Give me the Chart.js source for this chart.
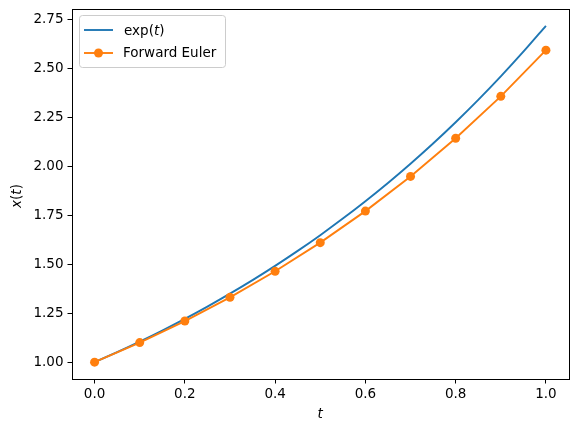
<!DOCTYPE html>
<html><head><meta charset="utf-8">
<script src="https://cdn.jsdelivr.net/npm/chart.js@4"></script>
<style>html,body{margin:0;padding:0;background:#fff}#wrap{width:578px;height:432px}</style>
</head><body><div id="wrap"><canvas id="c" width="578" height="432"></canvas></div>
<script>
const expT = [0,0.05,0.1,0.15,0.2,0.25,0.3,0.35,0.4,0.45,0.5,0.55,0.6,0.65,0.7,0.75,0.8,0.85,0.9,0.95,1.0];
const expX = [1.0000,1.0513,1.1052,1.1618,1.2214,1.2840,1.3499,1.4191,1.4918,1.5683,1.6487,1.7333,1.8221,1.9155,2.0138,2.1170,2.2255,2.3396,2.4596,2.5857,2.7183];
const eulerT = [0,0.1,0.2,0.3,0.4,0.5,0.6,0.7,0.8,0.9,1.0];
const eulerX = [1.0,1.1,1.21,1.331,1.4641,1.6105,1.7716,1.9487,2.1436,2.3579,2.5937];
const xTicks = [0,0.2,0.4,0.6,0.8,1.0];
const yTicks = [1.00,1.25,1.50,1.75,2.00,2.25,2.50,2.75];
const FONT = 'DejaVu Sans';
const FS = 13.5;
const BLUE = '#1f77b4', ORANGE = '#ff7f0e';

const deco = {
  id:'deco',
  afterDraw(chart){
    const ctx = chart.ctx, a = chart.chartArea;
    ctx.save();
    ctx.strokeStyle = '#000'; ctx.lineWidth = 1;
    ctx.strokeRect(Math.round(a.left)+0.5, Math.round(a.top)+0.5, Math.round(a.right-a.left), Math.round(a.bottom-a.top));
    // axis titles
    ctx.fillStyle = '#000';
    ctx.font = 'italic ' + FS + 'px ' + FONT;
    ctx.textAlign = 'center'; ctx.textBaseline = 'middle';
    ctx.fillText('t', (a.left+a.right)/2, 414);
    ctx.save();
    ctx.translate(17, (a.top+a.bottom)/2 + 2);
    ctx.rotate(-Math.PI/2);
    ctx.textAlign = 'left';
    const segs = [['x','italic'],['(','normal'],['t','italic'],[')','normal']];
    let w = 0;
    segs.forEach(s=>{ctx.font = s[1]+' '+FS+'px '+FONT; w += ctx.measureText(s[0]).width;});
    let x0 = -w/2;
    segs.forEach(s=>{ctx.font = s[1]+' '+FS+'px '+FONT; ctx.fillText(s[0], x0, 0); x0 += ctx.measureText(s[0]).width;});
    ctx.restore();
    // legend
    const lx = 79.5, ly = 15.5, lw = 146, lh = 52, r = 3;
    ctx.beginPath();
    ctx.moveTo(lx+r, ly); ctx.lineTo(lx+lw-r, ly); ctx.quadraticCurveTo(lx+lw, ly, lx+lw, ly+r);
    ctx.lineTo(lx+lw, ly+lh-r); ctx.quadraticCurveTo(lx+lw, ly+lh, lx+lw-r, ly+lh);
    ctx.lineTo(lx+r, ly+lh); ctx.quadraticCurveTo(lx, ly+lh, lx, ly+lh-r);
    ctx.lineTo(lx, ly+r); ctx.quadraticCurveTo(lx, ly, lx+r, ly);
    ctx.closePath();
    ctx.fillStyle = 'rgba(255,255,255,0.8)'; ctx.fill();
    ctx.strokeStyle = '#cccccc'; ctx.lineWidth = 1; ctx.stroke();
    ctx.lineWidth = 1.9;
    ctx.strokeStyle = BLUE;
    ctx.beginPath(); ctx.moveTo(84, 30); ctx.lineTo(113, 30); ctx.stroke();
    ctx.strokeStyle = ORANGE;
    ctx.beginPath(); ctx.moveTo(84, 53); ctx.lineTo(113, 53); ctx.stroke();
    ctx.fillStyle = ORANGE;
    ctx.beginPath(); ctx.arc(98.5, 53, 4.5, 0, Math.PI*2); ctx.fill();
    ctx.fillStyle = '#000'; ctx.textAlign = 'left'; ctx.textBaseline = 'middle';
    const lsegs = [['exp(','normal'],['t','italic'],[')','normal']];
    let tx = 124;
    lsegs.forEach(s=>{ctx.font = s[1]+' '+FS+'px '+FONT; ctx.fillText(s[0], tx, 31); tx += ctx.measureText(s[0]).width;});
    ctx.font = FS + 'px ' + FONT;
    ctx.fillText('Forward Euler', 123, 53);
    ctx.restore();
  }
};

new Chart(document.getElementById('c'), {
  type:'line',
  data:{datasets:[
    {label:'exp(t)', data: expT.map((t,i)=>({x:t,y:expX[i]})), borderColor:BLUE, borderWidth:1.9, pointRadius:0, tension:0.3, order:2},
    {label:'Forward Euler', data: eulerT.map((t,i)=>({x:t,y:eulerX[i]})), borderColor:ORANGE, backgroundColor:ORANGE, borderWidth:1.9, pointRadius:4.5, pointBorderWidth:0, pointBackgroundColor:ORANGE, tension:0, order:1}
  ]},
  options:{
    responsive:false, animation:false, devicePixelRatio:1,
    layout:{padding:{top:9, right:9.5, left:0, bottom:0}},
    plugins:{legend:{display:false}, tooltip:{enabled:false}},
    scales:{
      x:{type:'linear', min:-0.05, max:1.05,
        afterBuildTicks:s=>{s.ticks = xTicks.map(v=>({value:v}));},
        afterFit:s=>{s.height = 53; s.paddingLeft = 0; s.paddingRight = 0;},
        grid:{drawOnChartArea:false, drawTicks:true, tickLength:4.5, color:'#000', tickWidth:1},
        border:{display:false},
        ticks:{color:'#000', font:{family:FONT, size:FS}, padding:3, maxRotation:0, callback:v=>v.toFixed(1)}
      },
      y:{type:'linear', min:0.914, max:2.804,
        afterBuildTicks:s=>{s.ticks = yTicks.map(v=>({value:v}));},
        afterFit:s=>{s.width = 72; s.paddingTop = 0; s.paddingBottom = 0;},
        grid:{drawOnChartArea:false, drawTicks:true, tickLength:4.5, color:'#000', tickWidth:1},
        border:{display:false},
        ticks:{color:'#000', font:{family:FONT, size:FS}, padding:4, callback:v=>v.toFixed(2)}
      }
    }
  },
  plugins:[deco]
});
</script></body></html>
